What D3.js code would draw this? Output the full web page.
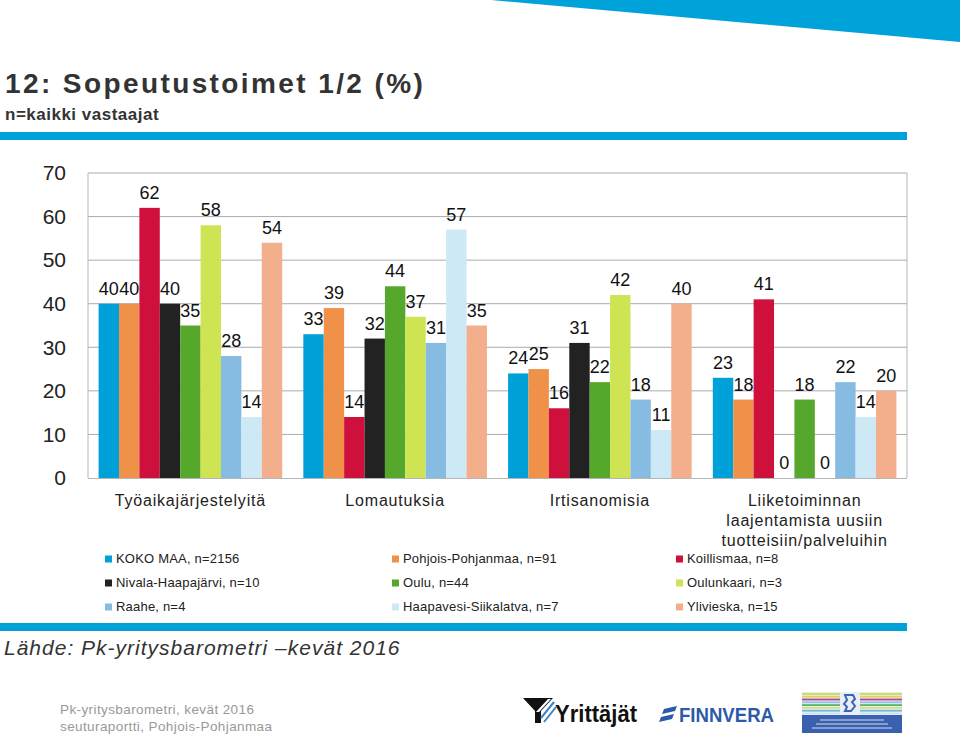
<!DOCTYPE html>
<html><head><meta charset="utf-8">
<script src="https://cdn.jsdelivr.net/npm/d3@7"></script>
<style>
body{margin:0;background:#fff}
svg{display:block}
text{font-family:"Liberation Sans",Arial,sans-serif}
</style>
</head><body>
<svg id="c" width="960" height="738"></svg>
<script>
// ---- data ----
const categories = ["Työaikajärjestelyitä", "Lomautuksia", "Irtisanomisia", "Liiketoiminnan\nlaajentamista uusiin\ntuotteisiin/palveluihin"];
const seriesNames = ["KOKO MAA, n=2156", "Pohjois-Pohjanmaa, n=91", "Koillismaa, n=8",
  "Nivala-Haapajärvi, n=10", "Oulu, n=44", "Oulunkaari, n=3",
  "Raahe, n=4", "Haapavesi-Siikalatva, n=7", "Ylivieska, n=15"];
const seriesColors = ["#00a0d8", "#f0914a", "#cf0f3c", "#222222", "#56a82c", "#cfe452", "#86bce2", "#cde9f6", "#f3ae8c"];
const kokoMaa = [40, 33, 24, 23];
const pohjoisPohjanmaa = [40, 39, 25, 18];
const koillismaa = [62, 14, 16, 41];
const nivalaHaapajarvi = [40, 32, 31, 0];
const oulu = [35, 44, 22, 18];
const oulunkaari = [58, 37, 42, 0];
const raahe = [28, 31, 18, 22];
const haapavesiSiikalatva = [14, 57, 11, 14];
const ylivieska = [54, 35, 40, 20];
const yTicks = [0, 10, 20, 30, 40, 50, 60, 70];

const seriesValues = [kokoMaa, pohjoisPohjanmaa, koillismaa, nivalaHaapajarvi, oulu, oulunkaari, raahe, haapavesiSiikalatva, ylivieska];

const svg = d3.select("#c");

// ---- header decorations ----
svg.append("polygon").attr("points", "491,0 960,0 960,42").attr("fill", "#00a3d9");
svg.append("text").attr("x", 5).attr("y", 93).attr("font-size", 28).attr("font-weight", "bold")
  .attr("letter-spacing", 2.4).attr("fill", "#333").text("12: Sopeutustoimet 1/2 (%)");
svg.append("text").attr("x", 5).attr("y", 120).attr("font-size", 17).attr("font-weight", "bold")
  .attr("letter-spacing", 0.5).attr("fill", "#333").text("n=kaikki vastaajat");
svg.append("rect").attr("x", 0).attr("y", 132).attr("width", 907).attr("height", 8).attr("fill", "#00a3d9");

// ---- chart ----
const pL = 88, pR = 907, pT = 173, pB = 478;
const x0 = d3.scaleBand().domain(categories).range([pL, pR]).paddingInner(0.1033).paddingOuter(0.0517);
const x1 = d3.scaleBand().domain(seriesNames).range([0, x0.bandwidth()]).padding(0);
const y = d3.scaleLinear().domain([0, 70]).range([pB, pT]);

// gridlines
svg.append("g").selectAll("line").data(yTicks.filter(t => t > 0)).join("line")
  .attr("x1", pL).attr("x2", pR).attr("y1", d => y(d)).attr("y2", d => y(d))
  .attr("stroke", "#ababab").attr("stroke-width", 1);
// frame
svg.append("line").attr("x1", pL).attr("x2", pL).attr("y1", pT).attr("y2", pB).attr("stroke", "#b5b5b5");
svg.append("line").attr("x1", pR).attr("x2", pR).attr("y1", pT).attr("y2", pB).attr("stroke", "#b5b5b5");

// y axis labels
const yAxis = d3.axisLeft(y).tickValues(yTicks).tickSize(0).tickPadding(0).tickFormat(d3.format("d"));
const yg = svg.append("g").attr("transform", `translate(66,0)`).call(yAxis);
yg.select(".domain").remove();
yg.selectAll("text").attr("font-size", 21).attr("fill", "#222").attr("font-family", "Liberation Sans, Arial, sans-serif");

// bars
const rows = [];
categories.forEach((c, ci) => seriesNames.forEach((s, si) => rows.push({c, s, si, v: seriesValues[si][ci]})));
const groups = svg.append("g");
groups.selectAll("rect").data(rows).join("rect")
  .attr("x", d => x0(d.c) + x1(d.s)).attr("width", x1.bandwidth())
  .attr("y", d => y(d.v)).attr("height", d => y(0) - y(d.v))
  .attr("fill", d => seriesColors[d.si]);
// x axis line
svg.append("line").attr("x1", pL).attr("x2", pR).attr("y1", pB + 0.5).attr("y2", pB + 0.5).attr("stroke", "#b5b5b5");

// value labels
groups.selectAll("text").data(rows).join("text")
  .attr("x", d => x0(d.c) + x1(d.s) + x1.bandwidth() / 2)
  .attr("y", d => y(d.v) - 9)
  .attr("text-anchor", "middle").attr("font-size", 18).attr("fill", "#111")
  .text(d => d.v);

// category labels
const cl = svg.append("g");
categories.forEach(c => {
  const t = cl.append("text").attr("x", x0(c) + x0.bandwidth() / 2).attr("y", 506)
    .attr("text-anchor", "middle").attr("font-size", 16).attr("letter-spacing", 0.8).attr("fill", "#222");
  c.split("\n").forEach((line, i) => {
    t.append("tspan").attr("x", x0(c) + x0.bandwidth() / 2).attr("dy", i === 0 ? 0 : 20).text(line);
  });
});

// legend
const legX = [105, 392, 676];
const legY = [563, 587, 611];
const lg = svg.append("g");
seriesNames.forEach((s, i) => {
  const cx = legX[i % 3], cy = legY[Math.floor(i / 3)];
  lg.append("rect").attr("x", cx).attr("y", cy - 7.5).attr("width", 7).attr("height", 7).attr("fill", seriesColors[i]);
  lg.append("text").attr("x", cx + 11).attr("y", cy).attr("font-size", 13).attr("letter-spacing", 0.2)
    .attr("fill", "#222").text(s);
});

// bottom bar and source
svg.append("rect").attr("x", 0).attr("y", 623).attr("width", 907).attr("height", 8).attr("fill", "#00a3d9");
svg.append("text").attr("x", 4).attr("y", 655).attr("font-size", 21).attr("font-style", "italic")
  .attr("letter-spacing", 1.0).attr("fill", "#333").text("Lähde: Pk-yritysbarometri –kevät 2016");
svg.append("text").attr("x", 60).attr("y", 714).attr("font-size", 13.5).attr("letter-spacing", 0.4)
  .attr("fill", "#999").text("Pk-yritysbarometri, kevät 2016");
svg.append("text").attr("x", 60).attr("y", 731).attr("font-size", 13.5).attr("letter-spacing", 0.4)
  .attr("fill", "#999").text("seuturaportti, Pohjois-Pohjanmaa");

// ---- logos (approximations) ----
const logo = svg.append("g");
// Yrittäjät symbol
logo.append("polygon").attr("points", "523,698 553,698 541,711 541,723 535,723 535,711").attr("fill", "#111");
logo.append("polygon").attr("points", "536,712 548,699 551,699 539,712").attr("fill", "#fff");
logo.append("line").attr("x1", 541).attr("y1", 718).attr("x2", 554).attr("y2", 702).attr("stroke", "#3d7fc4").attr("stroke-width", 2);
logo.append("line").attr("x1", 544).attr("y1", 722).attr("x2", 556).attr("y2", 707).attr("stroke", "#3d7fc4").attr("stroke-width", 2);
logo.append("text").attr("x", 555).attr("y", 722).attr("font-size", 23).attr("font-weight", "bold")
  .attr("textLength", 82).attr("lengthAdjust", "spacingAndGlyphs").attr("fill", "#111").text("Yrittäjät");
// Finnvera
logo.append("polygon").attr("points", "664,709 677,706 675,711 662,714").attr("fill", "#2b5ba8");
logo.append("polygon").attr("points", "661,717 674,714 672,719 659,722").attr("fill", "#2b5ba8");
logo.append("text").attr("x", 679).attr("y", 722).attr("font-size", 21).attr("font-weight", "bold")
  .attr("textLength", 95).attr("lengthAdjust", "spacingAndGlyphs").attr("fill", "#2b5ba8").text("FINNVERA");
// Ministry logo
const mx = 802, my = 692, mw = 100;
logo.append("rect").attr("x", mx).attr("y", my).attr("width", mw).attr("height", 41).attr("fill", "#e8eef6");
const stripeColors = ["#c8dc5a", "#e6d24a", "#b5419a", "#8fc4e8", "#58b46a", "#d8e070", "#6fb9e0", "#cfe3f2"];
stripeColors.forEach((c, i) => {
  logo.append("rect").attr("x", mx).attr("y", my + 1 + i * 2.8).attr("width", mw).attr("height", 1.8).attr("fill", c);
});
logo.append("rect").attr("x", mx + 38).attr("y", my).attr("width", 20).attr("height", 23).attr("fill", "#e8eef6");
logo.append("path").attr("d", `M${mx+43},${my+3} l8,0 l2,4 l-3,3 l3,4 l-4,5 l-6,0 l2,-4 l-3,-3 l3,-4 z`)
  .attr("fill", "none").attr("stroke", "#3a63b8").attr("stroke-width", 2);
logo.append("rect").attr("x", mx).attr("y", my + 23).attr("width", mw).attr("height", 18).attr("fill", "#3c60b0");
[0, 1, 2].forEach(i => {
  logo.append("line").attr("x1", mx + 18 + i * -4).attr("x2", mx + 82 + i * 4)
    .attr("y1", my + 28 + i * 4).attr("y2", my + 28 + i * 4).attr("stroke", "#d0dbf0").attr("stroke-width", 1);
});
</script>
</body></html>
